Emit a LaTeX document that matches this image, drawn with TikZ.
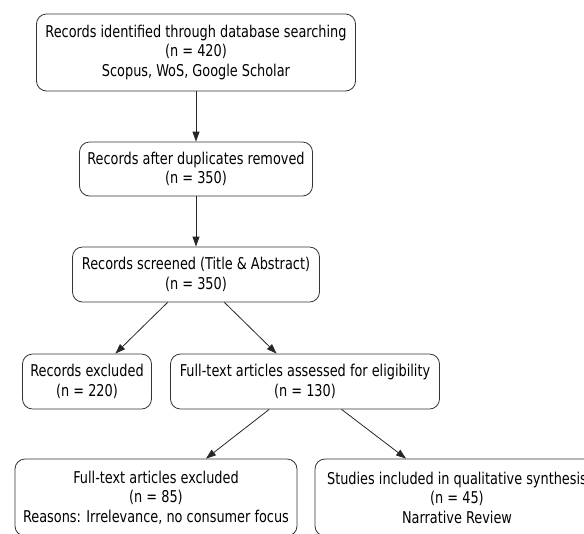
\documentclass[tikz,border=0pt]{standalone}
\usepackage{fontspec}
\setmainfont{DejaVu Sans Condensed}[FakeStretch=0.88]
\usetikzlibrary{arrows.meta}

\begin{document}
\begin{tikzpicture}[x=0.75pt, y=-0.75pt,
		box/.style={draw=black!80, line width=0.6pt, rounded corners=7.5pt, align=center, inner xsep=3pt, inner ysep=0pt, font=\fontsize{12.2pt}{14.6pt}\selectfont},
		flow/.style={draw=black!85, line width=0.6pt, -{Triangle[length=7.5pt, width=5.2pt]}}]
		\useasboundingbox (0, 0) rectangle (584, 533);
		\clip (0, 0) rectangle (584, 533);
		\node[box, minimum width=239.25pt, minimum height=57.75pt] (identified) at (196, 52.5) {Records identified through database searching\\(n = 420)\\Scopus, WoS, Google Scholar};
		\node[box, minimum width=174.75pt, minimum height=40.5pt] (duplicates) at (196, 169) {Records after duplicates removed\\(n = 350)};
		\node[box, minimum width=185.25pt, minimum height=41.25pt] (screened) at (196, 274.5) {Records screened (Title \& Abstract)\\(n = 350)};
		\node[box, minimum width=96.75pt, minimum height=41.25pt] (excluded) at (87, 381.5) {Records excluded\\(n = 220)};
		\node[box, minimum width=201.75pt, minimum height=41.25pt] (fulltext) at (305, 381.5) {Full-text articles assessed for eligibility\\(n = 130)};
		\node[box, minimum width=211.5pt, minimum height=57.75pt] (ftexcluded) at (156, 497.5) {Full-text articles excluded\\(n = 85)\\Reasons: Irrelevance, no consumer focus};
		\node[box, minimum width=213pt, minimum height=57.75pt] (included) at (457, 497.5) {Studies included in qualitative synthesis\\(n = 45)\\Narrative Review};
		% arrows
		\draw[flow] (identified) -- (duplicates);
		\draw[flow] (duplicates) -- (screened);
		\draw[flow] (screened) -- (excluded);
		\draw[flow] (screened) -- (fulltext);
		\draw[flow] (fulltext) -- (ftexcluded);
		\draw[flow] (fulltext) -- (included);
	\end{tikzpicture}
\end{document}
